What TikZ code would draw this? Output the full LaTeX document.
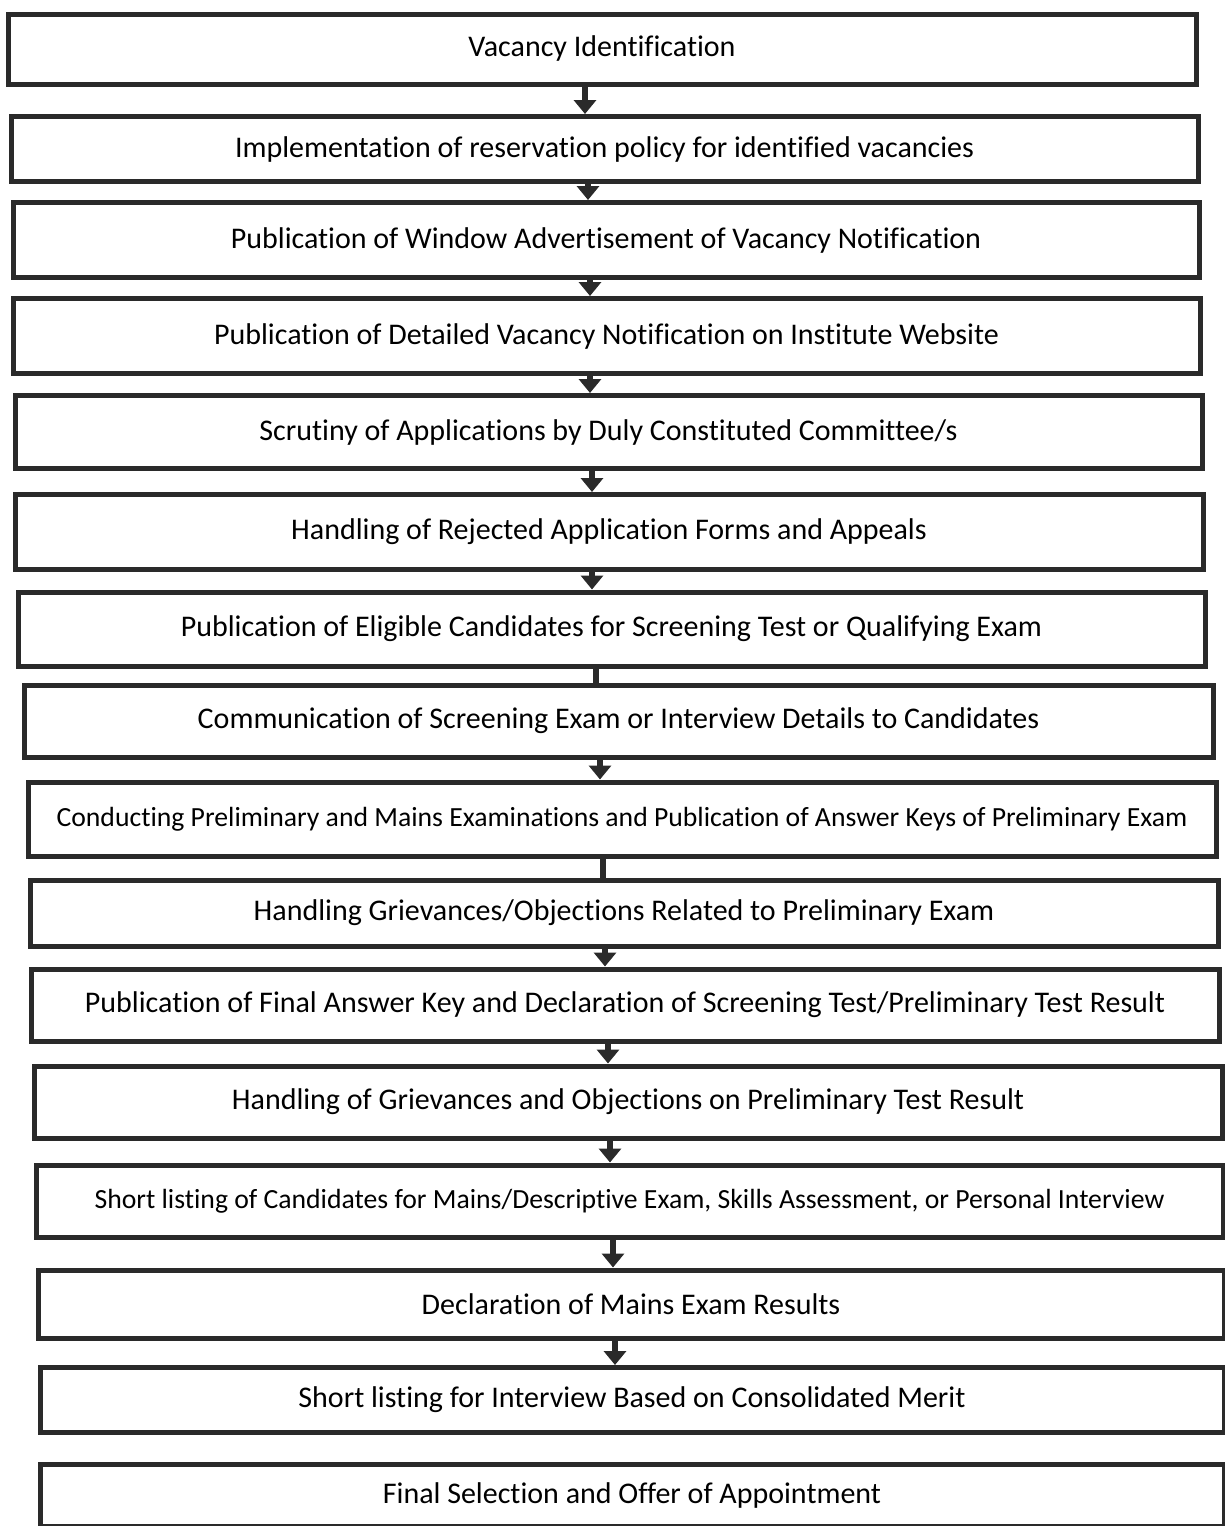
\documentclass[tikz,border=0pt]{standalone}
\usepackage{fontspec}
\setmainfont[Ligatures=NoCommon]{Carlito}
\usetikzlibrary{arrows.meta}
\definecolor{ink}{HTML}{2A2A2A}
\tikzset{
  box/.style={draw=ink, line width=5pt, rectangle, inner sep=0pt, text=black,
    font=\fontsize{30}{34}\selectfont},
  longbox/.style={box, font=\fontsize{27.7}{32}\selectfont},
  conn/.style={draw=ink, line width=6pt},
  arr/.style={conn, -{Triangle[width=22pt,length=14pt]}}
}
\begin{document}
\begin{tikzpicture}[x=1pt,y=-1pt]
\useasboundingbox (0,0) rectangle (1225,1526);
\node[box, minimum width=1188pt, minimum height=70pt] (b1) at (602,49) {Vacancy Identification};
\node[box, minimum width=1187pt, minimum height=65pt] (b2) at (604.5,149) {Implementation of reservation policy for identified vacancies};
\node[box, minimum width=1186pt, minimum height=75pt] (b3) at (606,240) {Publication of Window Advertisement of Vacancy Notification};
\node[box, minimum width=1187pt, minimum height=75pt] (b4) at (606.5,336) {Publication of Detailed Vacancy Notification on Institute Website};
\node[box, minimum width=1187pt, minimum height=73pt] (b5) at (608.5,432) {Scrutiny of Applications by Duly Constituted Committee/s};
\node[box, minimum width=1188pt, minimum height=75pt] (b6) at (609,532) {Handling of Rejected Application Forms and Appeals};
\node[box, minimum width=1187pt, minimum height=74pt] (b7) at (611.5,629) {Publication of Eligible Candidates for Screening Test or Qualifying Exam};
\node[box, minimum width=1189pt, minimum height=72pt] (b8) at (618.5,721) {Communication of Screening Exam or Interview Details to Candidates};
\node[longbox, minimum width=1188pt, minimum height=74pt] (b9) at (622,819) {Conducting Preliminary and Mains Examinations and Publication of Answer Keys of Preliminary Exam};
\node[box, minimum width=1188pt, minimum height=66pt] (b10) at (624,913) {Handling Grievances/Objections Related to Preliminary Exam};
\node[box, minimum width=1188pt, minimum height=72pt] (b11) at (625,1005) {Publication of Final Answer Key and Declaration of Screening Test/Preliminary Test Result};
\node[box, minimum width=1188pt, minimum height=72pt] (b12) at (628,1102) {Handling of Grievances and Objections on Preliminary Test Result};
\node[longbox, minimum width=1187pt, minimum height=72pt] (b13) at (629.5,1201) {Short listing of Candidates for Mains/Descriptive Exam, Skills Assessment, or Personal Interview};
\node[box, minimum width=1186pt, minimum height=68pt] (b14) at (631,1304) {Declaration of Mains Exam Results};
\node[box, minimum width=1184pt, minimum height=65pt] (b15) at (632,1400) {Short listing for Interview Based on Consolidated Merit};
\node[box, minimum width=1184pt, minimum height=62pt] (b16) at (632,1495) {Final Selection and Offer of Appointment};
\coordinate (c1) at (585,0);
\coordinate (c2) at (588,0);
\coordinate (c3) at (590,0);
\coordinate (c4) at (590,0);
\coordinate (c5) at (592,0);
\coordinate (c6) at (592,0);
\coordinate (c7) at (596,0);
\coordinate (c8) at (600,0);
\coordinate (c9) at (603,0);
\coordinate (c10) at (605,0);
\coordinate (c11) at (608,0);
\coordinate (c12) at (610,0);
\coordinate (c13) at (613,0);
\coordinate (c14) at (615,0);
\draw[arr] (b1.south -| c1) -- (b2.north -| c1);
\draw[arr] (b2.south -| c2) -- (b3.north -| c2);
\draw[arr] (b3.south -| c3) -- (b4.north -| c3);
\draw[arr] (b4.south -| c4) -- (b5.north -| c4);
\draw[arr] (b5.south -| c5) -- (b6.north -| c5);
\draw[arr] (b6.south -| c6) -- (b7.north -| c6);
\draw[conn] (b7.south -| c7) -- (b8.north -| c7);
\draw[arr] (b8.south -| c8) -- (b9.north -| c8);
\draw[conn] (b9.south -| c9) -- (b10.north -| c9);
\draw[arr] (b10.south -| c10) -- (b11.north -| c10);
\draw[arr] (b11.south -| c11) -- (b12.north -| c11);
\draw[arr] (b12.south -| c12) -- (b13.north -| c12);
\draw[arr] (b13.south -| c13) -- (b14.north -| c13);
\draw[arr] (b14.south -| c14) -- (b15.north -| c14);
\end{tikzpicture}
\end{document}
